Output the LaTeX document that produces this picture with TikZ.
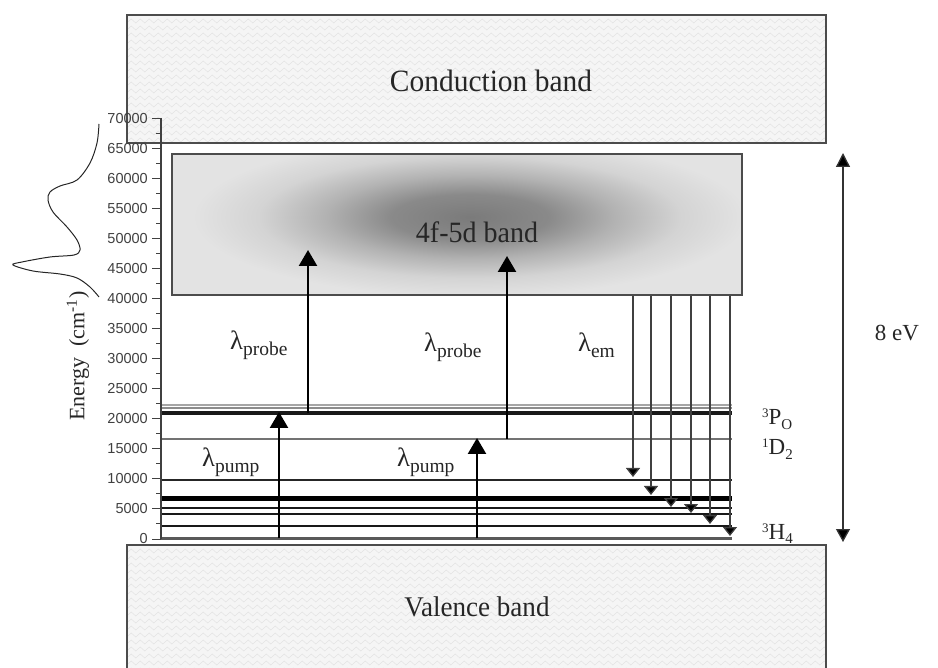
\documentclass[tikz,border=0pt]{standalone}
\usepackage{fontspec}
\setmainfont{Liberation Serif}
\newfontfamily\axisfont{Liberation Sans}
\usetikzlibrary{arrows.meta,decorations.pathmorphing}
\newcommand\lamsub[1]{λ\raisebox{-6pt}{\fontsize{19.5}{19.5}\selectfont #1}}
\newcommand\termsym[3]{\raisebox{7pt}{\fontsize{13}{13}\selectfont #1}#2\raisebox{-5pt}{\fontsize{15}{15}\selectfont #3}}
\pgfdeclareradialshading{fdband}{\pgfpoint{0bp}{0bp}}{%
  color(0bp)=(black!52); color(6bp)=(black!46); color(11bp)=(black!30);
  color(16bp)=(black!17); color(21bp)=(black!11); color(25bp)=(black!11); color(50bp)=(black!11)}
\begin{document}
\begin{tikzpicture}[x=1pt,y=-1pt,
  band/.style={draw=black!70, line width=1.3pt, fill=black!4},
  zz/.style={draw=black!11, line width=0.5pt, decorate,
    decoration={zigzag, segment length=9pt, amplitude=2pt}},
  lvl/.style={line width=2.2pt, draw=black!90},
  big/.style={line width=2.4pt, draw=black, -{Triangle[width=18pt,length=16pt]}},
  emit/.style={line width=1.3pt, draw=black!75, -{Triangle[width=14pt,length=9pt,fill=black]}},
  bandlab/.style={font=\fontsize{31}{33}\selectfont, text=black!85, xscale=0.95},
  lamlab/.style={font=\fontsize{26.5}{28}\selectfont, text=black!85, anchor=base west, inner sep=0pt},
  termlab/.style={font=\fontsize{23}{24}\selectfont, text=black!85, anchor=base west, inner sep=0pt},
  ticklab/.style={font=\axisfont\fontsize{14.5}{15}\selectfont, text=black!75, anchor=east, inner sep=0pt},
]
\useasboundingbox (0,0) rectangle (938,668);
\clip (0,0) rectangle (938,668);

% conduction band
\path[band] (127,15) rectangle (826,143);
\begin{scope}
  \clip (127,15) rectangle (826,143);
  \foreach \r in {21,28,...,140} \draw[zz] (120,\r) -- (832,\r);
\end{scope}
\draw[draw=black!70, line width=1.3pt] (127,15) rectangle (826,143);
\node[bandlab] (cb) at (491,81) {Conduction band};

% valence band
\path[band] (127,545) rectangle (826,700);
\begin{scope}
  \clip (127,545) rectangle (826,700);
  \foreach \r in {551,558,...,680} \draw[zz] (120,\r) -- (832,\r);
\end{scope}
\draw[draw=black!70, line width=1.3pt] (127,700) -- (127,545) -- (826,545) -- (826,700);
\node[bandlab, font=\fontsize{28.5}{30}\selectfont, xscale=1] (vb) at (477,607) {Valence band};

% 4f-5d band
\fill[black!11] (172,154) rectangle (742,295);
\begin{scope}
  \clip (172,154) rectangle (742,295);
  \shade[shading=fdband] (470,217) ellipse [x radius=330, y radius=95];
\end{scope}
\draw[draw=black!70, line width=1.3pt] (172,154) rectangle (742,295);
\node[bandlab, font=\fontsize{29.5}{31}\selectfont, xscale=1] (fd) at (477,232) {4f-5d band};

% energy levels
\draw[line width=3pt, draw=black!65] (161,538) -- (732,538);
\draw[lvl] (161,526) -- (732,526);
\draw[lvl] (161,514) -- (732,514);
\draw[lvl, line width=2pt] (161,508) -- (732,508);
\draw[lvl, line width=4.5pt, draw=black] (161,498.5) -- (732,498.5);
\draw[lvl, line width=2.6pt, draw=black!85] (161,480) -- (732,480);
\draw[lvl, line width=2.8pt, draw=black!55] (161,439) -- (732,439);
\draw[lvl, line width=4pt, draw=black!90] (161,413.5) -- (732,413.5);
\draw[lvl, line width=1.5pt, draw=black!45] (161,408) -- (732,408);
\draw[lvl, line width=1.5pt, draw=black!35] (161,405) -- (732,405);

% energy axis
\draw[line width=1.3pt, draw=black!75] (161,118) -- (161,539);
\foreach \k/\t in {0/0,5/5000,10/10000,15/15000,20/20000,25/25000,30/30000,35/35000,40/40000,45/45000,50/50000,55/55000,60/60000,65/65000,70/70000}{
  \draw[line width=1pt, draw=black!75] (152,{539-6.014*\k}) -- (161,{539-6.014*\k});
  \node[ticklab] at (148,{539-6.014*\k}) {\t};
}
\foreach \k in {2.5,7.5,...,67.5}
  \draw[line width=1pt, draw=black!75] (156,{539-6.014*\k}) -- (161,{539-6.014*\k});
\node[font=\fontsize{22}{23}\selectfont, text=black!85, rotate=90] (ax) at (78,356) {Energy\ \ (cm\textsuperscript{-1})};

% absorption profile
\draw[line width=1pt, draw=black!85] plot[smooth, tension=0.55] coordinates {
  (99,124) (97,143) (90,163) (77,180) (60,186) (50,192) (48,200) (53,212)
  (67,227) (77,240) (80,250) (74,255) (50,257) (22,262) (13,265) (33,271)
  (60,274) (77,278) (90,287) (99,297)};

% pump and probe arrows
\coordinate (pA0) at (279,538); \coordinate (pA1) at (279,412);
\coordinate (pB0) at (477,538); \coordinate (pB1) at (477,438);
\coordinate (qA0) at (308,413); \coordinate (qA1) at (308,250);
\coordinate (qB0) at (507,439); \coordinate (qB1) at (507,256);
\draw[big] (pA0) -- (pA1);
\draw[big] (pB0) -- (pB1);
\draw[big] (qA0) -- (qA1);
\draw[big] (qB0) -- (qB1);

% emission arrows
\foreach \xx/\yy [count=\i] in {633/477,651/495,671/507,691/513,710/524,730/536}{
  \coordinate (e\i s) at (\xx,296);
  \coordinate (e\i e) at (\xx,\yy);
  \draw[emit] (e\i s) -- (e\i e);
}

% 8 eV arrow
\coordinate (gt) at (843,153);
\coordinate (gb) at (843,542);
\draw[line width=1.3pt, draw=black!80, {Triangle[width=14pt,length=14pt,fill=black]}-{Triangle[width=14pt,length=13pt,fill=black]}] (gt) -- (gb);
\node[font=\fontsize{23}{24}\selectfont, text=black!85] (ev) at (897,333) {8 eV};

% labels
\node[lamlab] (l1) at (230,350) {\lamsub{probe}};
\node[lamlab] (l2) at (424,352) {\lamsub{probe}};
\node[lamlab] (l3) at (578,352) {\lamsub{em}};
\node[lamlab] (l4) at (202,467) {\lamsub{pump}};
\node[lamlab] (l5) at (397,467) {\lamsub{pump}};

\node[termlab] (t1) at (762,425) {\termsym{3}{P}{O}};
\node[termlab] (t2) at (762,455) {\termsym{1}{D}{2}};
\node[termlab] (t3) at (762,539) {\termsym{3}{H}{4}};
\end{tikzpicture}
\end{document}
